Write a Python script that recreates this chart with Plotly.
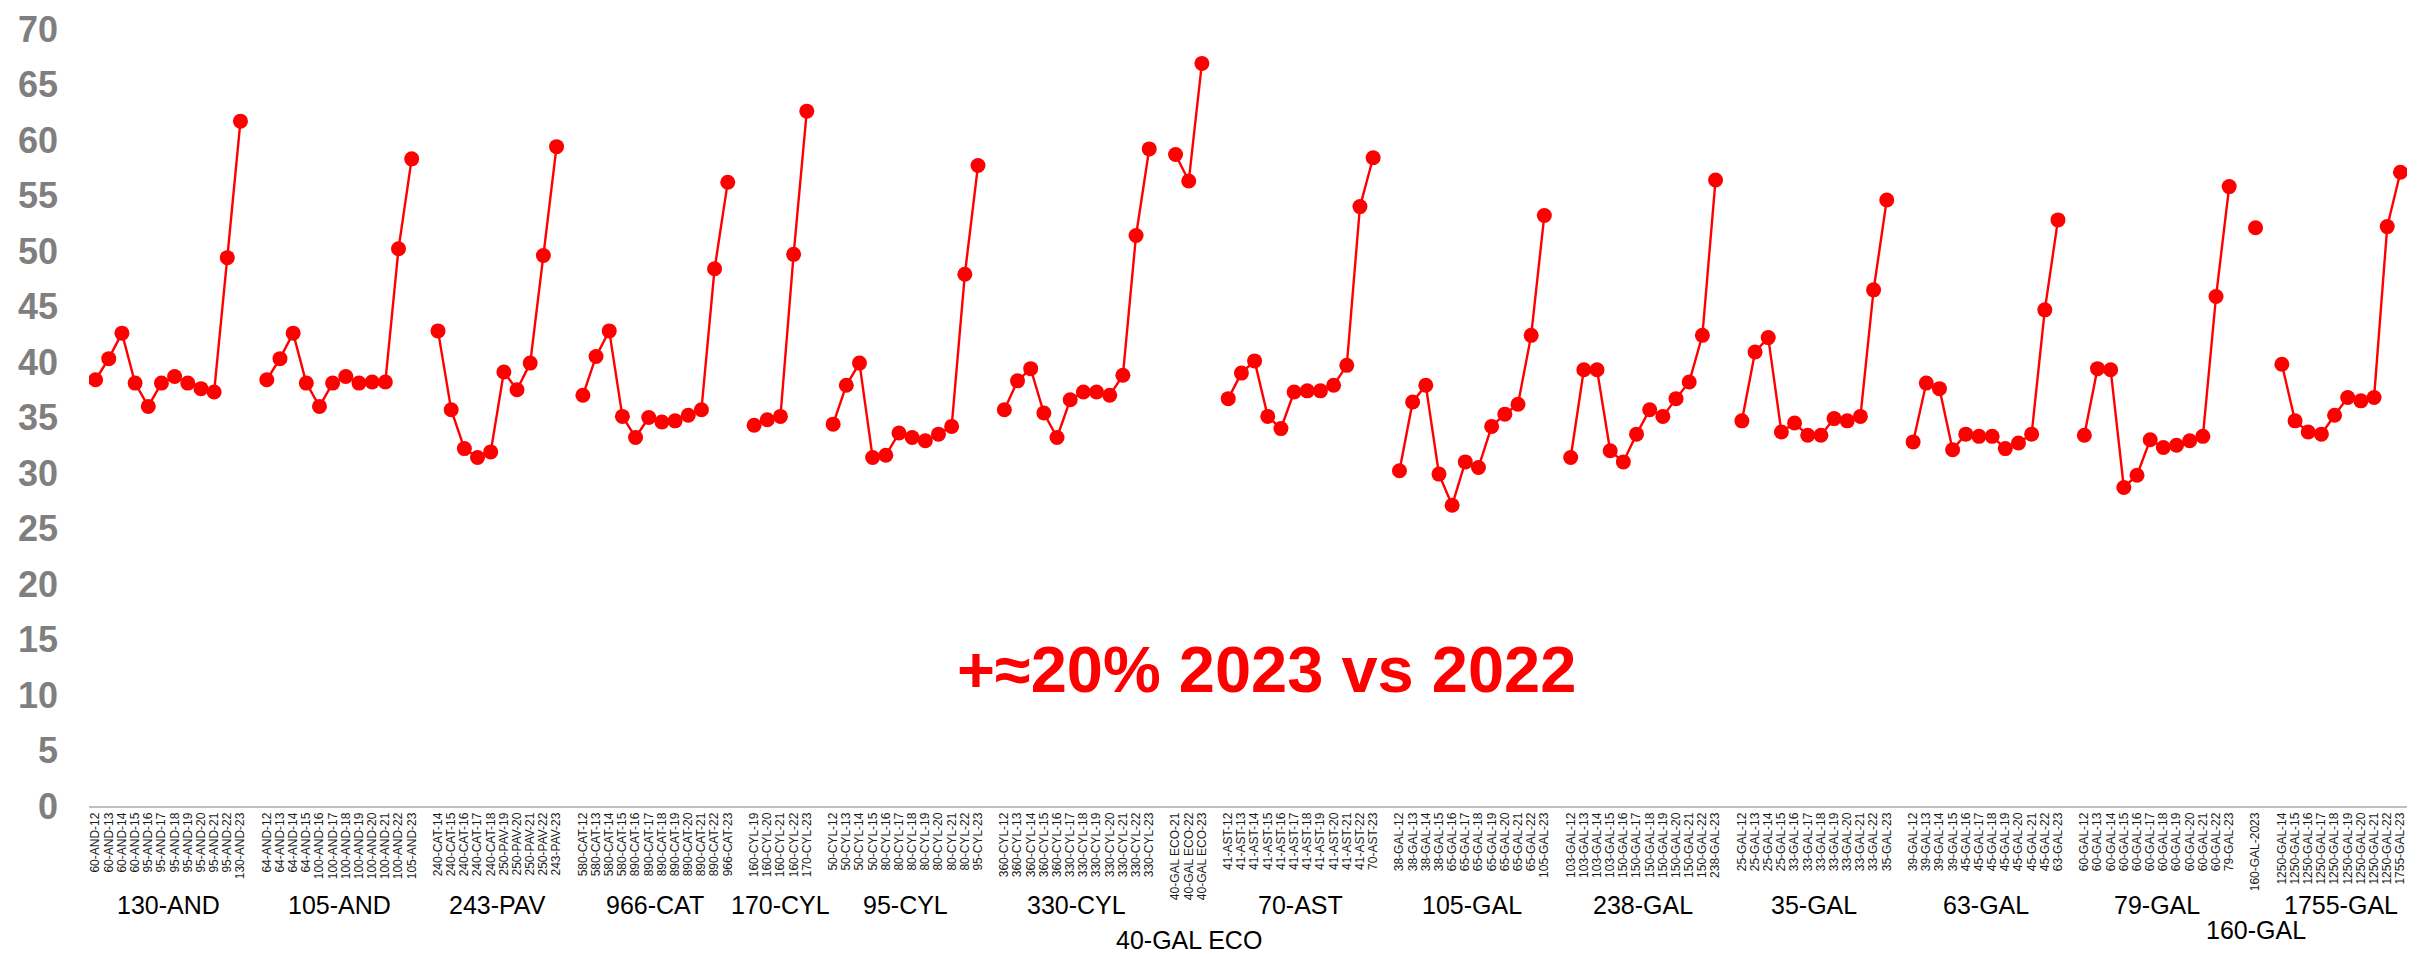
import plotly.graph_objects as go

groups = ["130-AND", "105-AND", "243-PAV", "966-CAT", "170-CYL", "95-CYL", "330-CYL",
          "40-GAL ECO", "70-AST", "105-GAL", "238-GAL", "35-GAL", "63-GAL", "79-GAL",
          "160-GAL", "1755-GAL"]

labels_130_and = ["60-AND-12", "60-AND-13", "60-AND-14", "60-AND-15", "95-AND-16", "95-AND-17",
                  "95-AND-18", "95-AND-19", "95-AND-20", "95-AND-21", "95-AND-22", "130-AND-23"]
values_130_and = [38.4, 40.3, 42.6, 38.1, 36.0, 38.1, 38.7, 38.1, 37.6, 37.3, 49.4, 61.7]

labels_105_and = ["64-AND-12", "64-AND-13", "64-AND-14", "64-AND-15", "100-AND-16", "100-AND-17",
                  "100-AND-18", "100-AND-19", "100-AND-20", "100-AND-21", "100-AND-22", "105-AND-23"]
values_105_and = [38.4, 40.3, 42.6, 38.1, 36.0, 38.1, 38.7, 38.1, 38.2, 38.2, 50.2, 58.3]

labels_243_pav = ["240-CAT-14", "240-CAT-15", "240-CAT-16", "240-CAT-17", "240-CAT-18",
                  "250-PAV-19", "250-PAV-20", "250-PAV-21", "250-PAV-22", "243-PAV-23"]
values_243_pav = [42.8, 35.7, 32.2, 31.4, 31.9, 39.1, 37.5, 39.9, 49.6, 59.4]

labels_966_cat = ["580-CAT-12", "580-CAT-13", "580-CAT-14", "580-CAT-15", "890-CAT-16", "890-CAT-17",
                  "890-CAT-18", "890-CAT-19", "890-CAT-20", "890-CAT-21", "890-CAT-22", "966-CAT-23"]
values_966_cat = [37.0, 40.5, 42.8, 35.1, 33.2, 35.0, 34.6, 34.7, 35.2, 35.7, 48.4, 56.2]

labels_170_cyl = ["160-CYL-19", "160-CYL-20", "160-CYL-21", "160-CYL-22", "170-CYL-23"]
values_170_cyl = [34.3, 34.8, 35.1, 49.7, 62.6]

labels_95_cyl = ["50-CYL-12", "50-CYL-13", "50-CYL-14", "50-CYL-15", "80-CYL-16", "80-CYL-17",
                 "80-CYL-18", "80-CYL-19", "80-CYL-20", "80-CYL-21", "80-CYL-22", "95-CYL-23"]
values_95_cyl = [34.4, 37.9, 39.9, 31.4, 31.6, 33.6, 33.2, 32.9, 33.5, 34.2, 47.9, 57.7]

labels_330_cyl = ["360-CYL-12", "360-CYL-13", "360-CYL-14", "360-CYL-15", "360-CYL-16", "330-CYL-17",
                  "330-CYL-18", "330-CYL-19", "330-CYL-20", "330-CYL-21", "330-CYL-22", "330-CYL-23"]
values_330_cyl = [35.7, 38.3, 39.4, 35.4, 33.2, 36.6, 37.3, 37.3, 37.0, 38.8, 51.4, 59.2]

labels_40_gal_eco = ["40-GAL ECO-21", "40-GAL ECO-22", "40-GAL ECO-23"]
values_40_gal_eco = [58.7, 56.3, 66.9]

labels_70_ast = ["41-AST-12", "41-AST-13", "41-AST-14", "41-AST-15", "41-AST-16", "41-AST-17",
                 "41-AST-18", "41-AST-19", "41-AST-20", "41-AST-21", "41-AST-22", "70-AST-23"]
values_70_ast = [36.7, 39.0, 40.1, 35.1, 34.0, 37.3, 37.4, 37.4, 37.9, 39.7, 54.0, 58.4]

labels_105_gal = ["38-GAL-12", "38-GAL-13", "38-GAL-14", "38-GAL-15", "65-GAL-16", "65-GAL-17",
                  "65-GAL-18", "65-GAL-19", "65-GAL-20", "65-GAL-21", "65-GAL-22", "105-GAL-23"]
values_105_gal = [30.2, 36.4, 37.9, 29.9, 27.1, 31.0, 30.5, 34.2, 35.3, 36.2, 42.4, 53.2]

labels_238_gal = ["103-GAL-12", "103-GAL-13", "103-GAL-14", "103-GAL-15", "150-GAL-16", "150-GAL-17",
                  "150-GAL-18", "150-GAL-19", "150-GAL-20", "150-GAL-21", "150-GAL-22", "238-GAL-23"]
values_238_gal = [31.4, 39.3, 39.3, 32.0, 31.0, 33.5, 35.7, 35.1, 36.7, 38.2, 42.4, 56.4]

labels_35_gal = ["25-GAL-12", "25-GAL-13", "25-GAL-14", "25-GAL-15", "33-GAL-16", "33-GAL-17",
                 "33-GAL-18", "33-GAL-19", "33-GAL-20", "33-GAL-21", "33-GAL-22", "35-GAL-23"]
values_35_gal = [34.7, 40.9, 42.2, 33.7, 34.5, 33.4, 33.4, 34.9, 34.7, 35.1, 46.5, 54.6]

labels_63_gal = ["39-GAL-12", "39-GAL-13", "39-GAL-14", "39-GAL-15", "45-GAL-16", "45-GAL-17",
                 "45-GAL-18", "45-GAL-19", "45-GAL-20", "45-GAL-21", "45-GAL-22", "63-GAL-23"]
values_63_gal = [32.8, 38.1, 37.6, 32.1, 33.5, 33.3, 33.3, 32.2, 32.7, 33.5, 44.7, 52.8]

labels_79_gal = ["60-GAL-12", "60-GAL-13", "60-GAL-14", "60-GAL-15", "60-GAL-16", "60-GAL-17",
                 "60-GAL-18", "60-GAL-19", "60-GAL-20", "60-GAL-21", "60-GAL-22", "79-GAL-23"]
values_79_gal = [33.4, 39.4, 39.3, 28.7, 29.8, 33.0, 32.3, 32.5, 32.9, 33.3, 45.9, 55.8]

labels_160_gal = ["160-GAL-2023"]
values_160_gal = [52.1]

labels_1755_gal = ["1250-GAL-14", "1250-GAL-15", "1250-GAL-16", "1250-GAL-17", "1250-GAL-18",
                   "1250-GAL-19", "1250-GAL-20", "1250-GAL-21", "1250-GAL-22", "1755-GAL-23"]
values_1755_gal = [39.8, 34.7, 33.7, 33.5, 35.2, 36.8, 36.5, 36.8, 52.2, 57.1]

group_labels = [labels_130_and, labels_105_and, labels_243_pav, labels_966_cat, labels_170_cyl,
                labels_95_cyl, labels_330_cyl, labels_40_gal_eco, labels_70_ast, labels_105_gal,
                labels_238_gal, labels_35_gal, labels_63_gal, labels_79_gal, labels_160_gal,
                labels_1755_gal]
group_values = [values_130_and, values_105_and, values_243_pav, values_966_cat, values_170_cyl,
                values_95_cyl, values_330_cyl, values_40_gal_eco, values_70_ast, values_105_gal,
                values_238_gal, values_35_gal, values_63_gal, values_79_gal, values_160_gal,
                values_1755_gal]

y_ticks = list(range(0, 75, 5))
note_text = "+≈20% 2023 vs 2022"

# Build category positions (one empty slot between groups)
xs, ys, tickvals, ticktext, centers = [], [], [], [], []
pos = 0
for gi, (labs, vals) in enumerate(zip(group_labels, group_values)):
    if gi > 0:
        xs.append(pos)
        ys.append(None)
        pos += 1
    start = pos
    for lab, val in zip(labs, vals):
        xs.append(pos)
        ys.append(val)
        tickvals.append(pos)
        ticktext.append(lab)
        pos += 1
    centers.append((start + pos - 1) / 2)

fig = go.Figure()
fig.add_trace(go.Scatter(
    x=xs, y=ys, mode="lines+markers", connectgaps=False,
    line=dict(color="#FF0000", width=2.4),
    marker=dict(color="#FF0000", size=15),
    showlegend=False, hoverinfo="skip"))

low_groups = {"40-GAL ECO": -0.1725, "160-GAL": -0.160}
for g, c in zip(groups, centers):
    fig.add_annotation(x=c, y=low_groups.get(g, -0.1276), xref="x", yref="paper",
                       text=g, showarrow=False, xanchor="center", yanchor="middle",
                       font=dict(family="Liberation Sans, Arial", size=25, color="#000000"))

fig.add_annotation(x=0.508, y=12.3, xref="paper", yref="y", text=note_text,
                   showarrow=False, xanchor="center", yanchor="middle",
                   font=dict(family="Liberation Sans, Arial", size=65, color="#FF0000", weight="bold"))

fig.update_layout(
    width=2418, height=954,
    margin=dict(l=81, r=19, t=21, b=156),
    paper_bgcolor="white", plot_bgcolor="white",
    xaxis=dict(range=[-0.5, pos - 0.5], tickmode="array", tickvals=tickvals, ticktext=ticktext,
               tickangle=-90, showgrid=False, zeroline=False, showline=True,
               linecolor="#BFBFBF", linewidth=1.5, ticks="", automargin=False,
               tickfont=dict(family="Liberation Sans, Arial", size=12, color="#1A1A1A")),
    yaxis=dict(range=[0, 70], tickmode="array", tickvals=y_ticks, showgrid=False,
               zeroline=False, showline=False, ticks="", ticklabelstandoff=30, automargin=False,
               tickfont=dict(family="Liberation Sans, Arial", size=36, color="#7F7F7F", weight="bold")),
)

fig.write_html("out.html")
